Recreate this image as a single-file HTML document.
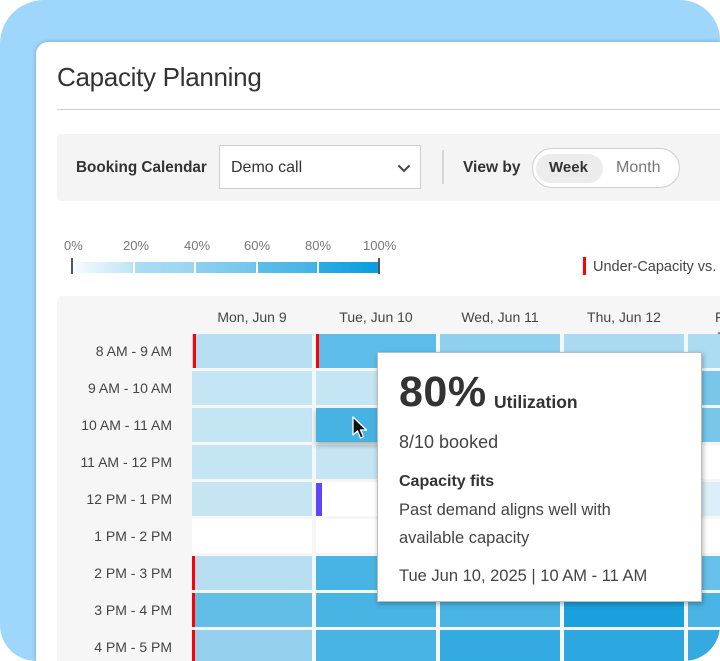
<!DOCTYPE html>
<html><head><meta charset="utf-8">
<style>
html,body{margin:0;padding:0;background:#fff;width:720px;height:661px;overflow:hidden;}
body{position:relative;font-family:"Liberation Sans",Arial,sans-serif;color:#333;}
.frame{position:absolute;left:0;top:0;width:720px;height:661px;background:#9fd6fb;border-radius:44px 40px 36px 36px;overflow:hidden;}
.card{position:absolute;left:36px;top:42px;width:684px;height:619px;background:#fff;border-radius:12px 0 0 0;box-shadow:0 0 4px rgba(0,0,0,0.25);overflow:hidden;}
.abs{position:absolute;white-space:nowrap;}
.cell{position:absolute;width:120px;height:34px;}
.rl{position:absolute;left:57px;width:115px;text-align:right;font-size:14px;line-height:20px;color:#444;}
.ch{position:absolute;width:120px;text-align:center;font-size:14px;line-height:20px;color:#444;top:307px;}
.red{position:absolute;width:3px;height:34px;background:#ff0000;}
.lg{position:absolute;font-size:13px;line-height:16px;color:#777;top:196px;}
</style></head><body>
<div class="frame">
 <div class="card">
  <div class="abs" style="left:21px;top:20px;font-size:26px;line-height:30px;letter-spacing:-0.3px;color:#333;">Capacity Planning</div>
  <div class="abs" style="left:21px;top:67px;width:680px;height:1px;background:#cfcfcf;"></div>

  <div class="abs" style="left:21px;top:92px;width:680px;height:67px;background:#f4f4f4;border-radius:4px;">
    <div class="abs" style="left:19px;top:24px;font-size:15.3px;line-height:20px;font-weight:bold;color:#333;">Booking Calendar</div>
    <div class="abs" style="left:162px;top:11px;background:#fff;border:1px solid #cdcdcd;box-sizing:border-box;width:202px;height:44px;">
      <div class="abs" style="left:11px;top:12px;font-size:16px;line-height:20px;color:#333;">Demo call</div>
      <svg class="abs" style="left:177px;top:18px;" width="14" height="9" viewBox="0 0 14 9"><polyline points="1.5,1.5 7,7 12.5,1.5" fill="none" stroke="#444" stroke-width="2"/></svg>
    </div>
    <div class="abs" style="left:385px;top:16px;width:2px;height:34px;background:#d6d6d6;"></div>
    <div class="abs" style="left:406px;top:24px;font-size:15.5px;line-height:20px;font-weight:bold;color:#333;">View by</div>
    <div class="abs" style="left:475px;top:14px;width:148px;height:40px;border:1px solid #cfcfcf;border-radius:21px;box-sizing:border-box;background:#fff;">
      <div class="abs" style="left:3px;top:5px;width:67px;height:29px;background:#ececec;border-radius:15px;"></div>
      <div class="abs" style="left:16px;top:9px;font-size:15px;line-height:20px;font-weight:bold;color:#333;">Week</div>
      <div class="abs" style="left:83px;top:9px;font-size:16px;line-height:20px;color:#777;">Month</div>
    </div>
  </div>

  <div class="lg" style="left:28px;">0%</div>
  <div class="lg" style="left:87px;">20%</div>
  <div class="lg" style="left:148px;">40%</div>
  <div class="lg" style="left:208px;">60%</div>
  <div class="lg" style="left:269px;">80%</div>
  <div class="lg" style="left:327px;">100%</div>
  <div class="abs" style="left:36px;top:220px;width:307px;height:11px;background:linear-gradient(to right,#f7fcff 0%,#c2e6f6 19%,#aadcf3 21%,#9ad6f1 39%,#8bd0ef 41%,#72c6ec 59%,#5cbde9 61%,#45b3e5 79%,#2ea9e2 81%,#0a9de0 100%);"></div>
  <div class="abs" style="left:97px;top:220px;width:2px;height:11px;background:#fff;"></div>
  <div class="abs" style="left:158px;top:220px;width:2px;height:11px;background:#fff;"></div>
  <div class="abs" style="left:220px;top:220px;width:2px;height:11px;background:#fff;"></div>
  <div class="abs" style="left:281px;top:220px;width:2px;height:11px;background:#fff;"></div>
  <div class="abs" style="left:35px;top:216px;width:1.5px;height:16px;background:#555;"></div>
  <div class="abs" style="left:342px;top:216px;width:1.5px;height:16px;background:#555;"></div>
  <div class="abs" style="left:547px;top:215px;width:3px;height:18px;background:#ff0000;"></div>
  <div class="abs" style="left:557px;top:215px;font-size:14.5px;line-height:20px;color:#444;">Under-Capacity vs.</div>

  <div class="abs" style="left:21px;top:254px;width:663px;height:365px;background:#f6f6f6;border-radius:5px 0 0 0;"></div>
 </div>

 <div class="ch" style="left:192px;">Mon, Jun 9</div>
 <div class="ch" style="left:316px;">Tue, Jun 10</div>
 <div class="ch" style="left:440px;">Wed, Jun 11</div>
 <div class="ch" style="left:564px;">Thu, Jun 12</div>
 <div class="ch" style="left:688px;text-align:left;padding-left:27px;box-sizing:border-box;width:32px;overflow:hidden;">Fri, Jun 13</div>

 <div class="rl" style="top:341px;">8 AM - 9 AM</div>
 <div class="rl" style="top:378px;">9 AM - 10 AM</div>
 <div class="rl" style="top:415px;">10 AM - 11 AM</div>
 <div class="rl" style="top:452px;">11 AM - 12 PM</div>
 <div class="rl" style="top:489px;">12 PM - 1 PM</div>
 <div class="rl" style="top:526px;">1 PM - 2 PM</div>
 <div class="rl" style="top:563px;">2 PM - 3 PM</div>
 <div class="rl" style="top:600px;">3 PM - 4 PM</div>
 <div class="rl" style="top:637px;">4 PM - 5 PM</div>

 <!-- Mon -->
 <div class="cell" style="left:192px;top:334px;background:#b8dff1;"></div>
 <div class="cell" style="left:192px;top:371px;background:#c4e5f3;"></div>
 <div class="cell" style="left:192px;top:408px;background:#c4e5f3;"></div>
 <div class="cell" style="left:192px;top:445px;background:#c4e5f3;"></div>
 <div class="cell" style="left:192px;top:482px;background:#c5e5f3;"></div>
 <div class="cell" style="left:192px;top:519px;background:#ffffff;"></div>
 <div class="cell" style="left:192px;top:556px;background:#b8dff1;"></div>
 <div class="cell" style="left:192px;top:593px;background:#62bde7;"></div>
 <div class="cell" style="left:192px;top:630px;height:31px;background:#95d1ee;"></div>
 <!-- Tue -->
 <div class="cell" style="left:316px;top:334px;background:#5ebde8;"></div>
 <div class="cell" style="left:316px;top:371px;background:#c4e5f3;"></div>
 <div class="cell" style="left:316px;top:445px;background:#c4e5f3;"></div>
 <div class="cell" style="left:316px;top:482px;background:#ffffff;"></div>
 <div class="cell" style="left:316px;top:519px;background:#ffffff;"></div>
 <div class="cell" style="left:316px;top:556px;background:#48b4e3;"></div>
 <div class="cell" style="left:316px;top:593px;background:#48b4e3;"></div>
 <div class="cell" style="left:316px;top:630px;height:31px;background:#48b4e3;"></div>
 <div class="cell" style="left:316px;top:408px;background:#47b3e3;box-shadow:0 3px 5px rgba(0,0,0,0.3);"></div>
 <!-- Wed -->
 <div class="cell" style="left:440px;top:334px;background:#8ed0ee;"></div>
 <div class="cell" style="left:440px;top:371px;background:#7cc8ec;"></div>
 <div class="cell" style="left:440px;top:408px;background:#6cc2ea;"></div>
 <div class="cell" style="left:440px;top:445px;background:#c4e5f3;"></div>
 <div class="cell" style="left:440px;top:482px;background:#ffffff;"></div>
 <div class="cell" style="left:440px;top:519px;background:#ffffff;"></div>
 <div class="cell" style="left:440px;top:556px;background:#55b9e6;"></div>
 <div class="cell" style="left:440px;top:593px;background:#4ab5e4;"></div>
 <div class="cell" style="left:440px;top:630px;height:31px;background:#33aae1;"></div>
 <!-- Thu -->
 <div class="cell" style="left:564px;top:334px;background:#a9daf1;"></div>
 <div class="cell" style="left:564px;top:371px;background:#7cc8ec;"></div>
 <div class="cell" style="left:564px;top:408px;background:#7cc8ec;"></div>
 <div class="cell" style="left:564px;top:445px;background:#ffffff;"></div>
 <div class="cell" style="left:564px;top:482px;background:#dceef7;"></div>
 <div class="cell" style="left:564px;top:519px;background:#ffffff;"></div>
 <div class="cell" style="left:564px;top:556px;background:#55b9e6;"></div>
 <div class="cell" style="left:564px;top:593px;background:#1aa0dd;"></div>
 <div class="cell" style="left:564px;top:630px;height:31px;background:#2ca7e0;"></div>
 <!-- Fri -->
 <div class="cell" style="left:688px;top:334px;width:32px;background:#abdcf2;"></div>
 <div class="cell" style="left:688px;top:371px;width:32px;background:#78c7eb;"></div>
 <div class="cell" style="left:688px;top:408px;width:32px;background:#78c7eb;"></div>
 <div class="cell" style="left:688px;top:445px;width:32px;background:#ffffff;"></div>
 <div class="cell" style="left:688px;top:482px;width:32px;background:#dceef7;"></div>
 <div class="cell" style="left:688px;top:519px;width:32px;background:#ffffff;"></div>
 <div class="cell" style="left:688px;top:556px;width:32px;background:#66c0e9;"></div>
 <div class="cell" style="left:688px;top:593px;width:32px;background:#4ab4e4;"></div>
 <div class="cell" style="left:688px;top:630px;width:32px;height:31px;background:#34aae1;"></div>

 <div class="red" style="left:193px;top:334px;"></div>
 <div class="red" style="left:316px;top:334px;"></div>
 <div class="red" style="left:192px;top:556px;"></div>
 <div class="red" style="left:192px;top:593px;"></div>
 <div class="red" style="left:192px;top:630px;height:31px;"></div>
 <div class="abs" style="left:316px;top:483px;width:6px;height:33px;background:#5c47ff;"></div>

 <svg class="abs" style="left:352px;top:416px;" width="18" height="26" viewBox="0 0 18 26">
  <polygon points="1,1 1,19 5.5,15 8.5,22 11.5,20.7 8.5,14 14.5,14" fill="#111" stroke="#fff" stroke-width="1.3" stroke-linejoin="round"/>
 </svg>

 <div class="abs" style="left:377px;top:352px;width:325px;height:250px;background:#fff;border:1px solid #bdbdbd;box-sizing:border-box;box-shadow:1px 2px 5px rgba(0,0,0,0.3);">
  <div class="abs" style="left:21px;top:14px;font-size:43px;line-height:50px;font-weight:bold;color:#333;letter-spacing:0.5px;">80%</div>
  <div class="abs" style="left:116px;top:38px;font-size:17.5px;line-height:22px;font-weight:bold;color:#333;">Utilization</div>
  <div class="abs" style="left:21px;top:78px;font-size:18px;line-height:22px;color:#444;">8/10 booked</div>
  <div class="abs" style="left:21px;top:119px;font-size:16px;line-height:20px;font-weight:bold;color:#333;">Capacity fits</div>
  <div class="abs" style="left:21px;top:147px;font-size:16.5px;line-height:20px;color:#444;">Past demand aligns well with</div>
  <div class="abs" style="left:21px;top:175px;font-size:16.5px;line-height:20px;color:#444;">available capacity</div>
  <div class="abs" style="left:21px;top:213px;font-size:16.5px;line-height:20px;color:#444;">Tue Jun 10, 2025 | 10 AM - 11 AM</div>
 </div>
</div>
</body></html>
